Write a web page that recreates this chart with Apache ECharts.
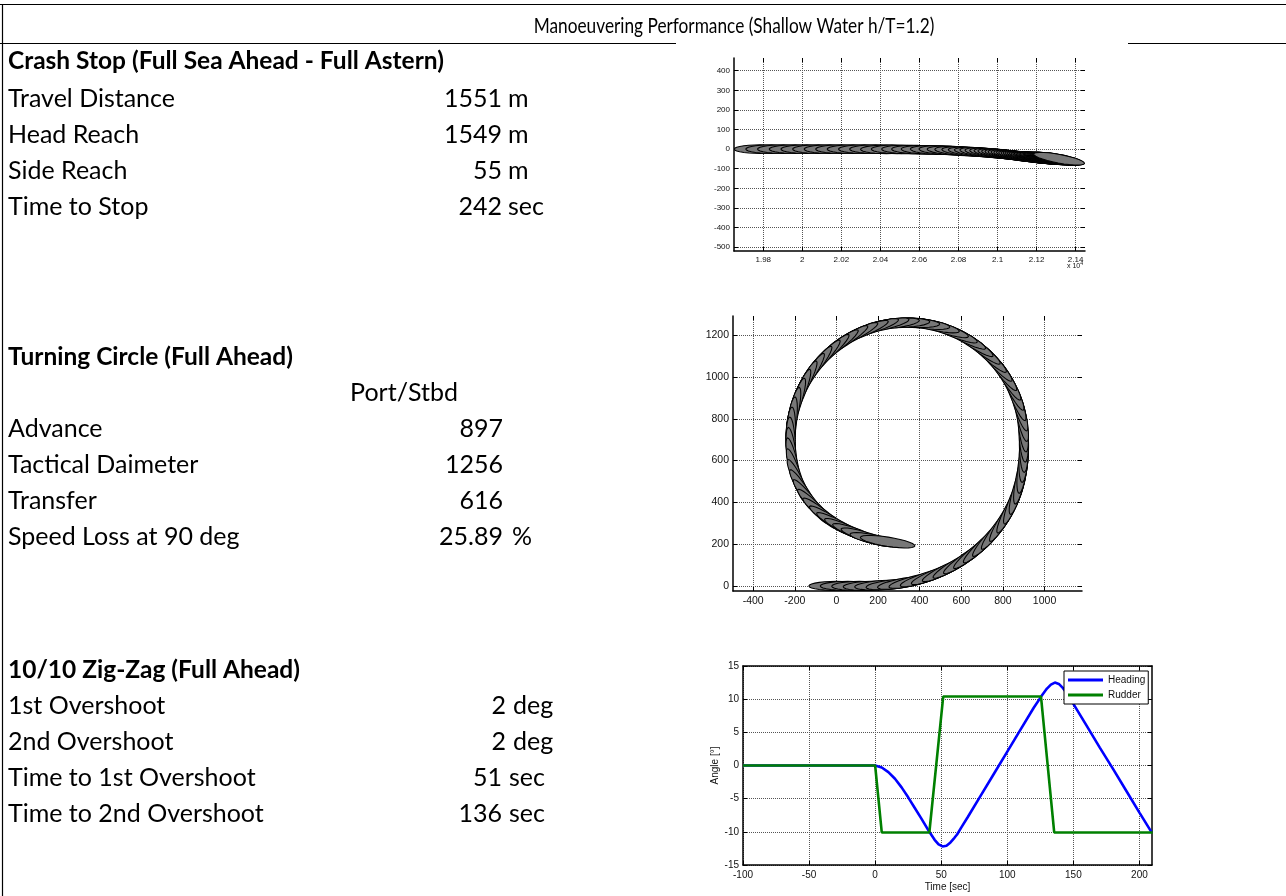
<!DOCTYPE html>
<html><head><meta charset="utf-8">
<script src="https://cdn.jsdelivr.net/npm/echarts@6/dist/echarts.min.js"></script>
<style>html,body{margin:0;padding:0;background:#fff}#c{width:1286px;height:896px}</style>
</head><body><div id="c"></div>
<script>
// ---------------- text data ----------------
const pageTitle = 'Manoeuvering Performance (Shallow Water h/T=1.2)';
const crashHeader = 'Crash Stop (Full Sea Ahead - Full Astern)';
const crashLabels = ['Travel Distance', 'Head Reach', 'Side Reach', 'Time to Stop'];
const crashValues = ['1551', '1549', '55', '242'];
const crashUnits = ['m', 'm', 'm', 'sec'];
const turnHeader = 'Turning Circle (Full Ahead)';
const turnSubHeader = 'Port/Stbd';
const turnLabels = ['Advance', 'Tactical Daimeter', 'Transfer', 'Speed Loss at 90 deg'];
const turnValues = ['897', '1256', '616', '25.89'];
const turnUnits = ['', '', '', '%'];
const zigHeader = '10/10 Zig-Zag (Full Ahead)';
const zigLabels = ['1st Overshoot', '2nd Overshoot', 'Time to 1st Overshoot', 'Time to 2nd Overshoot'];
const zigValues = ['2', '2', '51', '136'];
const zigUnits = ['deg', 'deg', 'sec', 'sec'];

// ---------------- crash stop track (ship centres, m; heading, deg) ----------------
const crashX = [19783, 19843, 19903, 19963, 20023, 20083, 20142, 20201, 20260, 20318, 20375, 20431, 20486, 20539, 20590, 20639, 20686, 20730, 20772, 20811, 20847, 20880, 20911, 20939, 20965, 20989, 21011, 21031, 21050, 21067, 21083, 21098, 21112, 21125, 21137, 21149, 21160, 21171, 21181, 21191, 21200, 21209, 21217, 21225, 21233, 21240, 21247, 21254, 21261, 21267, 21273, 21279, 21284, 21289, 21294, 21298, 21302, 21306, 21309, 21312, 21315];
const crashY = [0, 0, 0, 0, 0, 0, 0, 0, 0, 0, 0, -1, -1, -2, -3, -4, -5, -6, -8, -10, -12, -14, -16, -18, -20, -22, -24, -26, -28, -30, -32, -34, -36, -37, -39, -40, -41, -42, -43, -44, -45, -45, -46, -46, -47, -47, -47, -48, -48, -48, -48, -49, -49, -49, -49, -49, -49, -49, -49, -49, -49];
const crashHeading = [0, 0, 0, 0, 0, 0, 0, 0, 0, 0, 0, 0, -0.5, -1, -1.5, -2, -2.5, -3, -3.5, -4, -4.5, -5, -5.5, -6, -6.5, -7, -7.3, -7.6, -7.9, -8.2, -8.5, -8.8, -9, -9.2, -9.4, -9.6, -9.8, -10, -10.1, -10.2, -10.2, -10.3, -10.3, -10.3, -10.4, -10.4, -10.4, -10.4, -10.5, -10.5, -10.5, -10.5, -10.5, -10.5, -10.5, -10.5, -10.5, -10.5, -10.5, -10.5, -10.5];
const crashXTicks = [19800, 20000, 20200, 20400, 20600, 20800, 21000, 21200, 21400];
const crashYTicks = [-500, -400, -300, -200, -100, 0, 100, 200, 300, 400];

// ---------------- turning circle track (ship centres, m) ----------------
const turnX = [0, 55, 110, 165, 220, 274, 328, 381, 433, 483, 532, 579, 624, 667, 707, 744, 778, 808, 834, 856, 873, 886, 895, 900, 901, 899, 895, 887, 874, 857, 837, 812, 784, 753, 718, 681, 641, 599, 554, 508, 461, 413, 364, 316, 267, 219, 172, 126, 81, 39, -1, -38, -73, -104, -132, -157, -177, -194, -207, -215, -219, -219, -215, -207, -194, -176, -152, -124, -92, -57, -18, 22, 64, 106, 149, 195, 246];
const turnY = [0, 0, 0, 1, 4, 8, 16, 27, 42, 60, 82, 107, 136, 168, 203, 241, 282, 326, 372, 420, 470, 522, 575, 628, 676, 725, 773, 821, 868, 914, 959, 1001, 1041, 1078, 1113, 1144, 1172, 1197, 1217, 1234, 1247, 1255, 1259, 1259, 1255, 1247, 1234, 1217, 1197, 1172, 1144, 1113, 1078, 1041, 1001, 959, 914, 868, 821, 773, 724, 676, 627, 579, 531, 486, 444, 404, 368, 337, 309, 286, 265, 248, 233, 220, 212];
const turnXTicks = [-400, -200, 0, 200, 400, 600, 800, 1000];
const turnYTicks = [0, 200, 400, 600, 800, 1000, 1200];

// ---------------- zig-zag time histories ----------------
const zigTime = [-100, 0, 5, 10, 15, 20, 25, 30, 35, 41, 45, 48, 51, 54, 57, 60, 62, 65, 70, 80, 90, 100, 110, 120, 126, 130, 133, 136, 139, 142, 145, 150, 160, 170, 180, 190, 200, 209];
const zigHeading = [0, 0, -0.3, -1.0, -2.0, -3.3, -4.8, -6.4, -8.0, -10.0, -11.2, -11.9, -12.2, -12.1, -11.6, -10.9, -10.4, -9.4, -7.8, -4.5, -1.2, 2.1, 5.4, 8.7, 10.5, 11.6, 12.2, 12.5, 12.3, 11.7, 10.9, 9.3, 6.0, 2.7, -0.5, -3.8, -7.1, -10.0];
const rudderTime = [-100, 0, 5, 41, 51.5, 125.5, 135.5, 210];
const rudderAngle = [0, 0, -10.1, -10.1, 10.4, 10.4, -10.1, -10.1];
const zigXTicks = [-100, -50, 0, 50, 100, 150, 200];
const zigYTicks = [-15, -10, -5, 0, 5, 10, 15];

// ---------------- styling constants ----------------
const SHIP_L = 265, SHIP_B = 44, SHIP_SEG = 28;
const UI_FONT = 'Lato';
const AX_FONT = 'Liberation Sans';

// ---------------- build data ----------------
const crashData = crashX.map((x, i) => [x, crashY[i], crashHeading[i]]);
const turnData = turnX.map((x, i) => {
  const a = Math.max(i - 1, 0), b = Math.min(i + 1, turnX.length - 1);
  const h = Math.atan2(turnY[b] - turnY[a], turnX[b] - turnX[a]) * 180 / Math.PI;
  return [x, turnY[i], h];
});
const headingData = zigTime.map((t, i) => [t, zigHeading[i]]);
const rudderData = rudderTime.map((t, i) => [t, rudderAngle[i]]);

function shipRender(params, api) {
  const cx = api.value(0), cy = api.value(1), h = api.value(2) * Math.PI / 180;
  const pts = [];
  for (let k = 0; k < SHIP_SEG; k++) {
    const t = 2 * Math.PI * k / SHIP_SEG;
    const lx = SHIP_L / 2 * Math.cos(t), ly = SHIP_B / 2 * Math.sin(t);
    pts.push(api.coord([cx + lx * Math.cos(h) - ly * Math.sin(h), cy + lx * Math.sin(h) + ly * Math.cos(h)]));
  }
  return { type: 'polygon', shape: { points: pts }, style: { fill: '#777777', stroke: '#000', lineWidth: 1.05 } };
}

function axisPair(g, dim, min, max, ticks, fontSize, fmt, box, extra) {
  const lineCol = '#000';
  const main = Object.assign({
    type: 'value', gridIndex: g, min: min, max: max,
    position: dim === 'x' ? 'bottom' : 'left',
    axisLine: { show: true, onZero: false, lineStyle: { color: lineCol, width: 1.5 } },
    axisTick: { show: true, inside: true, length: 4, customValues: ticks, lineStyle: { color: lineCol, width: 1 } },
    axisLabel: { show: true, customValues: ticks, fontSize: fontSize, fontFamily: AX_FONT, color: '#111', margin: dim === 'x' ? 5 : 4, formatter: fmt },
    splitLine: { show: true, lineStyle: { color: '#555', type: 'dotted', width: 1 } }
  }, extra || {});
  const second = {
    type: 'value', gridIndex: g, min: min, max: max,
    position: dim === 'x' ? 'top' : 'right',
    axisLine: { show: box, onZero: false, lineStyle: { color: lineCol, width: 1.5 } },
    axisTick: { show: true, inside: true, length: 4, customValues: ticks, lineStyle: { color: lineCol, width: 1 } },
    axisLabel: { show: false },
    splitLine: { show: false }
  };
  return [main, second];
}

const fmtCrashX = v => String(Number((v / 1e4).toFixed(2)));
const fmtPlain = v => String(v);

const cx = axisPair(0, 'x', 19650, 21448, crashXTicks, 8, fmtCrashX, false);
const cy = axisPair(0, 'y', -520, 465, crashYTicks, 8, fmtPlain, false);
const tx = axisPair(1, 'x', -497, 1180, turnXTicks, 10.5, fmtPlain, false);
const ty = axisPair(1, 'y', -24, 1292, turnYTicks, 10.5, fmtPlain, false);
const zx = axisPair(2, 'x', -100, 209.5, zigXTicks, 10, fmtPlain, true,
  { name: 'Time [sec]', nameLocation: 'middle', nameGap: 17, nameTextStyle: { fontSize: 10, fontFamily: AX_FONT, color: '#111' } });
const zy = axisPair(2, 'y', -15, 15, zigYTicks, 10, fmtPlain, true,
  { name: 'Angle [\u00b0]', nameLocation: 'middle', nameGap: 22, nameTextStyle: { fontSize: 10, fontFamily: AX_FONT, color: '#111' } });

// ---------------- page text ----------------
const graphics = [];
const BODY = '25px ' + UI_FONT, BOLD = 'bold 24.5px ' + UI_FONT;
function txt(text, x, y, opt, extra) {
  graphics.push(Object.assign({ type: 'text', x: x, y: y, z: 10, style: Object.assign({ text: text, fill: '#000', font: BODY, align: 'left', verticalAlign: 'middle' }, opt || {}) }, extra || {}));
}
function hline(x1, x2, y) { graphics.push({ type: 'line', shape: { x1: x1, y1: y, x2: x2, y2: y }, style: { stroke: '#000', lineWidth: 1.2 } }); }
function vline(x, y1, y2) { graphics.push({ type: 'line', shape: { x1: x, y1: y1, x2: x, y2: y2 }, style: { stroke: '#000', lineWidth: 1.2 } }); }

hline(0, 1286, 4.5);
vline(2.5, 4, 896);
hline(0, 676, 43.5);
hline(1128, 1286, 43.5);

txt(pageTitle, 734, 26, { align: 'center', font: '22px ' + UI_FONT }, { scaleX: 0.785 });
const LX = 8, ROW = 36;
txt(crashHeader, LX, 61, { font: BOLD });
crashLabels.forEach((s, i) => {
  const y = 99 + ROW * i;
  txt(s, LX, y);
  txt(crashValues[i], 502, y, { align: 'right' });
  txt(crashUnits[i], 508, y);
});
txt(turnHeader, LX, 357, { font: BOLD });
txt(turnSubHeader, 404, 393, { align: 'center' });
turnLabels.forEach((s, i) => {
  const y = 429 + ROW * i;
  txt(s, LX, y);
  txt(turnValues[i], 503, y, { align: 'right' });
  if (turnUnits[i]) txt(turnUnits[i], 512, y);
});
txt(zigHeader, LX, 670, { font: BOLD });
zigLabels.forEach((s, i) => {
  const y = 706 + ROW * i;
  txt(s, LX, y);
  const isDeg = zigUnits[i] === 'deg';
  txt(zigValues[i], isDeg ? 506 : 502, y, { align: 'right' });
  txt(zigUnits[i], isDeg ? 513 : 509, y);
});
graphics.push({ type: 'text', x: 1067, y: 266, z: 10, style: { text: '{a|x 10}{b|4}', rich: { a: { fontSize: 7, fontFamily: AX_FONT, fill: '#111' }, b: { fontSize: 5, fontFamily: AX_FONT, fill: '#111', verticalAlign: 'top', padding: [0, 0, 5, 0] } }, verticalAlign: 'middle' } });

const chart = echarts.init(document.getElementById('c'), null, { renderer: 'canvas' });
chart.setOption({
  backgroundColor: '#fff',
  animation: false,
  grid: [
    { left: 734, top: 58, width: 351, height: 193 },
    { left: 733, top: 316, width: 349, height: 275 },
    { left: 743, top: 666, width: 409, height: 199 }
  ],
  xAxis: [cx[0], cx[1], tx[0], tx[1], zx[0], zx[1]],
  yAxis: [cy[0], cy[1], ty[0], ty[1], zy[0], zy[1]],
  legend: {
    data: ['Heading', 'Rudder'], orient: 'vertical', left: 1064, top: 671,
    icon: 'rect', itemWidth: 35, itemHeight: 3, itemGap: 5, padding: [4, 3, 4, 4],
    borderColor: '#000', borderWidth: 1, backgroundColor: '#fff',
    textStyle: { fontSize: 10, fontFamily: AX_FONT, color: '#111' }
  },
  graphic: graphics,
  series: [
    { type: 'custom', name: 'crash', xAxisIndex: 0, yAxisIndex: 0, clip: true, data: crashData, encode: { x: 0, y: 1 }, renderItem: shipRender, z: 3 },
    { type: 'custom', name: 'turn', xAxisIndex: 2, yAxisIndex: 2, clip: true, data: turnData, encode: { x: 0, y: 1 }, renderItem: shipRender, z: 3 },
    { type: 'line', name: 'Heading', xAxisIndex: 4, yAxisIndex: 4, data: headingData, symbol: 'none', lineStyle: { color: '#0000ff', width: 2.6 }, itemStyle: { color: '#0000ff' }, z: 3 },
    { type: 'line', name: 'Rudder', xAxisIndex: 4, yAxisIndex: 4, data: rudderData, symbol: 'none', lineStyle: { color: '#008000', width: 2.6 }, itemStyle: { color: '#008000' }, z: 4 }
  ]
});
</script></body></html>
